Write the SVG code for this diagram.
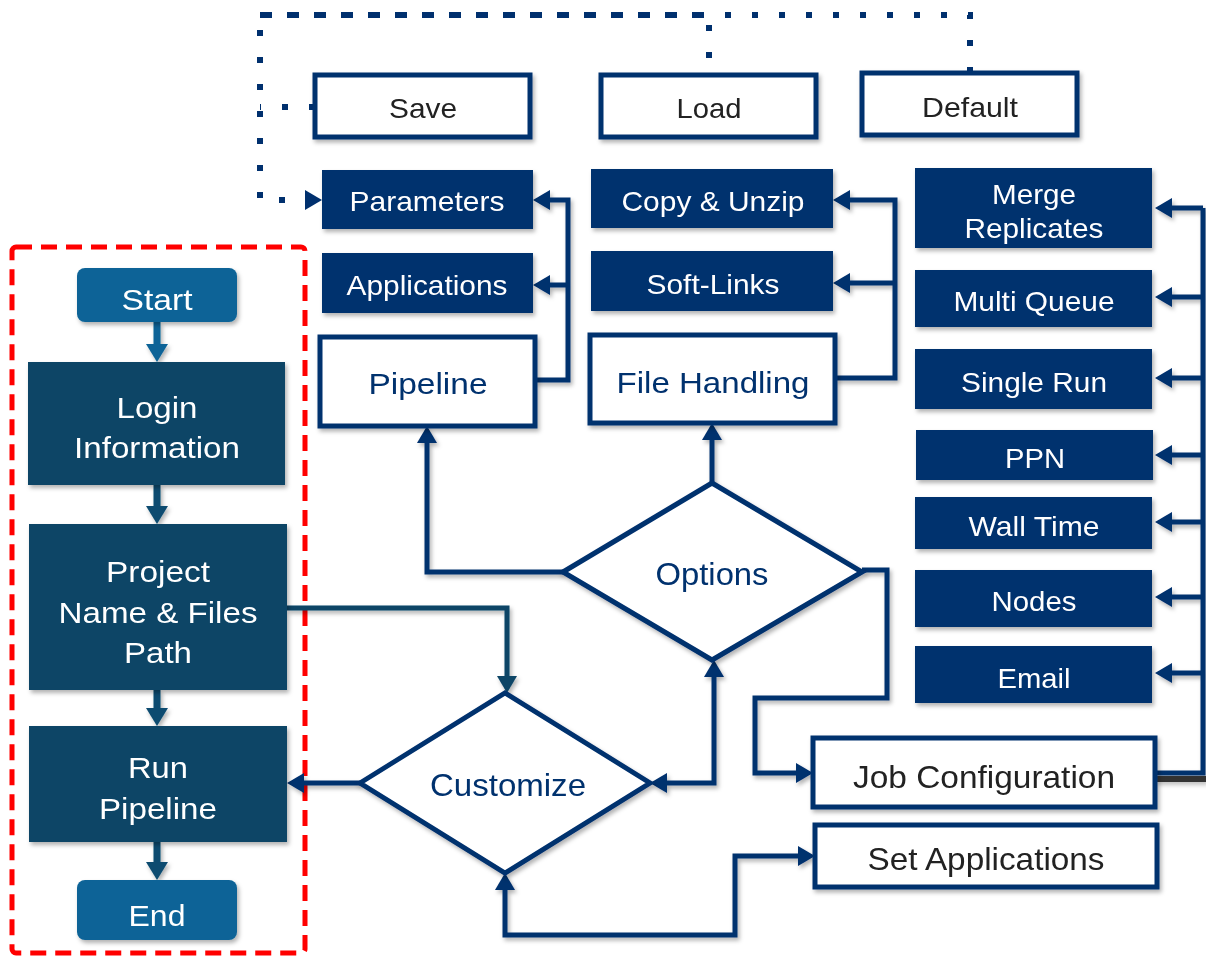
<svg xmlns="http://www.w3.org/2000/svg" width="1206" height="957" viewBox="0 0 1206 957">
  <defs>
    <style>
      .t { font-family: "Liberation Sans", Arial, sans-serif; text-anchor: middle; }
      .w { fill: #ffffff; }
      .dk { fill: #222222; }
      .nv { fill: #00306E; }
      .fill-nv { fill: #00306E; }
      .fill-tl { fill: #0A4466; }
      .fill-st { fill: #0A6397; }
      .box-o { fill: #ffffff; stroke: #00306E; stroke-width: 5; }
      .con { fill: none; stroke: #00306E; stroke-width: 5; stroke-linejoin: miter; }
      .con-tl { fill: none; stroke: #0A4466; stroke-width: 5; }
      .con-col { fill: none; stroke: #0B4C70; stroke-width: 7; }
      .dot { fill: none; stroke: #00306E; stroke-width: 6; stroke-dasharray: 6 21; }
    </style>
    <filter id="sh" x="-10%" y="-10%" width="130%" height="140%">
      <feDropShadow dx="2" dy="3" stdDeviation="2" flood-color="#000000" flood-opacity="0.3"/>
    </filter>
    <marker id="an" viewBox="0 0 17 20" refX="7" refY="10" markerWidth="17" markerHeight="20" markerUnits="userSpaceOnUse" orient="auto-start-reverse">
      <path d="M0,0 L17,10 L0,20 z" fill="#00306E"/>
    </marker>
    <marker id="at" viewBox="0 0 17 20" refX="7" refY="10" markerWidth="17" markerHeight="20" markerUnits="userSpaceOnUse" orient="auto-start-reverse">
      <path d="M0,0 L17,10 L0,20 z" fill="#0A4466"/>
    </marker>
    <marker id="ac" viewBox="0 0 18 22" refX="8" refY="11" markerWidth="18" markerHeight="22" markerUnits="userSpaceOnUse" orient="auto">
      <path d="M0,0 L18,11 L0,22 z" fill="#0B4C70"/>
    </marker>
    <marker id="as" viewBox="0 0 18 22" refX="8" refY="11" markerWidth="18" markerHeight="22" markerUnits="userSpaceOnUse" orient="auto">
      <path d="M0,0 L18,11 L0,22 z" fill="#0A6397"/>
    </marker>
  </defs>

  <rect width="1206" height="957" fill="#ffffff"/>

  <!-- workflow frame -->
  <rect x="12" y="247" width="293" height="706" rx="4" fill="none" stroke="#FF0000" stroke-width="5" stroke-dasharray="16 9"/>

  <!-- connectors -->
  <g id="connectors">
    <!-- dotted preset links -->
    <path class="dot" d="M970,73 V15 H260 V200 H312" marker-end="url(#an)"/>
    <path class="dot" d="M709,75 V15 H260" style="stroke-dashoffset:10"/>
    <path class="dot" d="M315,107 H260"/>

    <g filter="url(#sh)">
      <!-- main column -->
      <path class="con-col" d="M157,322 V352" style="stroke:#0A6397" marker-end="url(#as)"/>
      <path class="con-col" d="M157,485 V514" marker-end="url(#ac)"/>
      <path class="con-col" d="M157,690 V716" marker-end="url(#ac)"/>
      <path class="con-col" d="M157,842 V870" marker-end="url(#ac)"/>

      <!-- pipeline options -->
      <path class="con" d="M535,380 H568 V200 H543" marker-end="url(#an)"/>
      <path class="con" d="M568,285 H543" marker-end="url(#an)"/>
      <!-- file handling options -->
      <path class="con" d="M835,378 H895 V200 H843" marker-end="url(#an)"/>
      <path class="con" d="M895,283 H843" marker-end="url(#an)"/>

      <!-- job configuration bus -->
      <path d="M1155,779 H1206" stroke="#111111" stroke-width="6" fill="none" opacity="0.8"/>
      <path class="con" d="M1155,773 H1203 V208"/>
      <path class="con" d="M1203,208 H1165" marker-end="url(#an)"/>
      <path class="con" d="M1203,297 H1165" marker-end="url(#an)"/>
      <path class="con" d="M1203,378 H1165" marker-end="url(#an)"/>
      <path class="con" d="M1203,455 H1165" marker-end="url(#an)"/>
      <path class="con" d="M1203,522 H1165" marker-end="url(#an)"/>
      <path class="con" d="M1203,597 H1165" marker-end="url(#an)"/>
      <path class="con" d="M1203,673 H1165" marker-end="url(#an)"/>

      <!-- options branches -->
      <path class="con" d="M563,572 H427 V436" marker-end="url(#an)"/>
      <path class="con" d="M712,483 V433" marker-end="url(#an)"/>
      <path class="con" d="M862,570 H887 V698 H755 V773 H803" marker-end="url(#an)"/>

      <!-- customize links -->
      <path class="con" d="M660,783 H714 V670" marker-start="url(#an)" marker-end="url(#an)"/>
      <path class="con-tl" d="M287,608 H507 V683" marker-end="url(#at)"/>
      <path class="con" d="M360,783 H297" marker-end="url(#an)"/>
      <path class="con" d="M505,883 V935 H735 V856 H805" marker-start="url(#an)" marker-end="url(#an)"/>
    </g>
  </g>

  <!-- main flow -->
  <g id="start" filter="url(#sh)">
    <rect x="77" y="268" width="160" height="54" rx="8" class="fill-st"/>
    <text x="157" y="310" class="t w" font-size="30" textLength="71" lengthAdjust="spacingAndGlyphs">Start</text>
  </g>
  <g id="login" filter="url(#sh)">
    <rect x="28" y="362" width="257" height="123" class="fill-tl"/>
    <text x="157" y="418" class="t w" font-size="30" textLength="81" lengthAdjust="spacingAndGlyphs">Login</text>
    <text x="157" y="458" class="t w" font-size="30" textLength="166" lengthAdjust="spacingAndGlyphs">Information</text>
  </g>
  <g id="project" filter="url(#sh)">
    <rect x="29" y="524" width="258" height="166" class="fill-tl"/>
    <text x="158" y="582" class="t w" font-size="30" textLength="104" lengthAdjust="spacingAndGlyphs">Project</text>
    <text x="158" y="623" class="t w" font-size="30" textLength="199" lengthAdjust="spacingAndGlyphs">Name &amp; Files</text>
    <text x="158" y="663" class="t w" font-size="30" textLength="68" lengthAdjust="spacingAndGlyphs">Path</text>
  </g>
  <g id="run-pipeline" filter="url(#sh)">
    <rect x="29" y="726" width="258" height="116" class="fill-tl"/>
    <text x="158" y="778" class="t w" font-size="30" textLength="60" lengthAdjust="spacingAndGlyphs">Run</text>
    <text x="158" y="819" class="t w" font-size="30" textLength="118" lengthAdjust="spacingAndGlyphs">Pipeline</text>
  </g>
  <g id="end" filter="url(#sh)">
    <rect x="77" y="880" width="160" height="60" rx="8" class="fill-st"/>
    <text x="157" y="926" class="t w" font-size="30" textLength="57" lengthAdjust="spacingAndGlyphs">End</text>
  </g>

  <!-- presets -->
  <g id="save" filter="url(#sh)">
    <rect x="315" y="75" width="215" height="62" class="box-o"/>
    <text x="423" y="118" class="t dk" font-size="28" textLength="68" lengthAdjust="spacingAndGlyphs">Save</text>
  </g>
  <g id="load" filter="url(#sh)">
    <rect x="601" y="75" width="215" height="62" class="box-o"/>
    <text x="709" y="118" class="t dk" font-size="28" textLength="65" lengthAdjust="spacingAndGlyphs">Load</text>
  </g>
  <g id="default" filter="url(#sh)">
    <rect x="862" y="73" width="215" height="62" class="box-o"/>
    <text x="970" y="117" class="t dk" font-size="28" textLength="96" lengthAdjust="spacingAndGlyphs">Default</text>
  </g>

  <!-- pipeline group -->
  <g id="parameters" filter="url(#sh)">
    <rect x="322" y="170" width="211" height="59" class="fill-nv"/>
    <text x="427" y="211" class="t w" font-size="28" textLength="155" lengthAdjust="spacingAndGlyphs">Parameters</text>
  </g>
  <g id="applications" filter="url(#sh)">
    <rect x="322" y="253" width="211" height="60" class="fill-nv"/>
    <text x="427" y="295" class="t w" font-size="28" textLength="161" lengthAdjust="spacingAndGlyphs">Applications</text>
  </g>
  <g id="pipeline" filter="url(#sh)">
    <rect x="320" y="337" width="215" height="89" class="box-o"/>
    <text x="428" y="394" class="t nv" font-size="30" textLength="119" lengthAdjust="spacingAndGlyphs">Pipeline</text>
  </g>

  <!-- file handling group -->
  <g id="copy-unzip" filter="url(#sh)">
    <rect x="591" y="169" width="242" height="59" class="fill-nv"/>
    <text x="713" y="211" class="t w" font-size="28" textLength="183" lengthAdjust="spacingAndGlyphs">Copy &amp; Unzip</text>
  </g>
  <g id="soft-links" filter="url(#sh)">
    <rect x="591" y="251" width="242" height="60" class="fill-nv"/>
    <text x="713" y="294" class="t w" font-size="28" textLength="133" lengthAdjust="spacingAndGlyphs">Soft-Links</text>
  </g>
  <g id="file-handling" filter="url(#sh)">
    <rect x="590" y="335" width="245" height="88" class="box-o"/>
    <text x="713" y="393" class="t nv" font-size="30" textLength="193" lengthAdjust="spacingAndGlyphs">File Handling</text>
  </g>

  <!-- job settings -->
  <g id="merge-replicates" filter="url(#sh)">
    <rect x="915" y="168" width="237" height="80" class="fill-nv"/>
    <text x="1034" y="204" class="t w" font-size="28" textLength="84" lengthAdjust="spacingAndGlyphs">Merge</text>
    <text x="1034" y="238" class="t w" font-size="28" textLength="139" lengthAdjust="spacingAndGlyphs">Replicates</text>
  </g>
  <g id="multi-queue" filter="url(#sh)">
    <rect x="915" y="270" width="237" height="57" class="fill-nv"/>
    <text x="1034" y="311" class="t w" font-size="28" textLength="161" lengthAdjust="spacingAndGlyphs">Multi Queue</text>
  </g>
  <g id="single-run" filter="url(#sh)">
    <rect x="915" y="349" width="237" height="60" class="fill-nv"/>
    <text x="1034" y="392" class="t w" font-size="28" textLength="146" lengthAdjust="spacingAndGlyphs">Single Run</text>
  </g>
  <g id="ppn" filter="url(#sh)">
    <rect x="916" y="430" width="237" height="50" class="fill-nv"/>
    <text x="1035" y="468" class="t w" font-size="28" textLength="60" lengthAdjust="spacingAndGlyphs">PPN</text>
  </g>
  <g id="wall-time" filter="url(#sh)">
    <rect x="915" y="497" width="237" height="52" class="fill-nv"/>
    <text x="1034" y="536" class="t w" font-size="28" textLength="131" lengthAdjust="spacingAndGlyphs">Wall Time</text>
  </g>
  <g id="nodes" filter="url(#sh)">
    <rect x="915" y="570" width="237" height="57" class="fill-nv"/>
    <text x="1034" y="611" class="t w" font-size="28" textLength="85" lengthAdjust="spacingAndGlyphs">Nodes</text>
  </g>
  <g id="email" filter="url(#sh)">
    <rect x="915" y="646" width="237" height="57" class="fill-nv"/>
    <text x="1034" y="688" class="t w" font-size="28" textLength="73" lengthAdjust="spacingAndGlyphs">Email</text>
  </g>

  <g id="job-configuration" filter="url(#sh)">
    <rect x="813" y="738" width="342" height="69" class="box-o"/>
    <text x="984" y="788" class="t dk" font-size="32" textLength="262" lengthAdjust="spacingAndGlyphs">Job Configuration</text>
  </g>
  <g id="set-applications" filter="url(#sh)">
    <rect x="815" y="825" width="342" height="62" class="box-o"/>
    <text x="986" y="870" class="t dk" font-size="32" textLength="237" lengthAdjust="spacingAndGlyphs">Set Applications</text>
  </g>

  <!-- decisions -->
  <g id="options" filter="url(#sh)">
    <polygon points="563,572 712,483 862,572 712,660" fill="#ffffff" stroke="#00306E" stroke-width="5" stroke-linejoin="miter"/>
    <text x="712" y="585" class="t nv" font-size="32" textLength="113" lengthAdjust="spacingAndGlyphs">Options</text>
  </g>
  <g id="customize" filter="url(#sh)">
    <polygon points="360,783 505,693 650,783 505,873" fill="#ffffff" stroke="#00306E" stroke-width="5" stroke-linejoin="miter"/>
    <text x="508" y="796" class="t nv" font-size="32" textLength="156" lengthAdjust="spacingAndGlyphs">Customize</text>
  </g>
</svg>
